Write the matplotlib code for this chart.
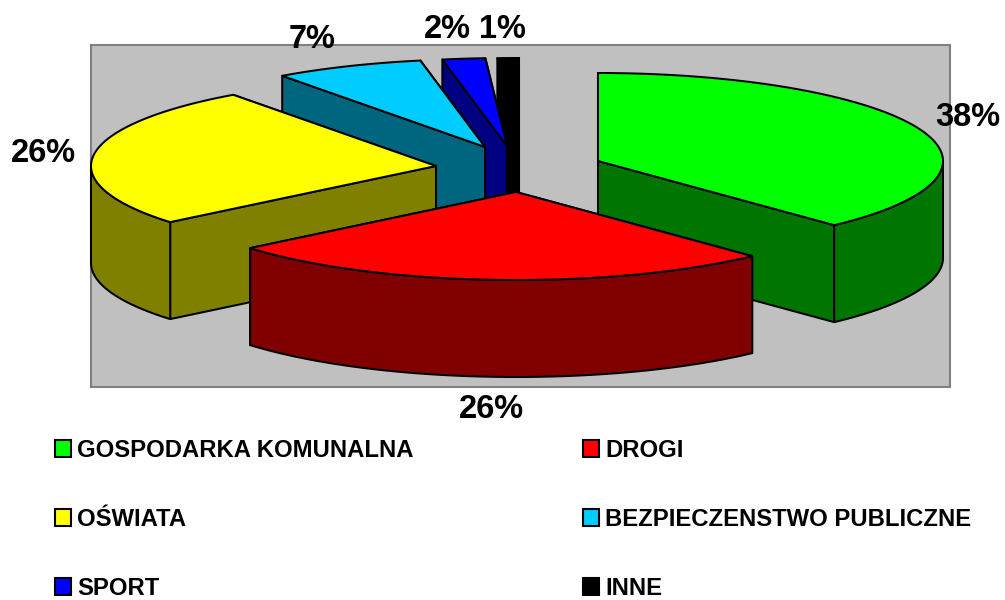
import numpy as np
import matplotlib
matplotlib.use("Agg")
import matplotlib.pyplot as plt
from matplotlib.patches import Polygon, Rectangle

plt.rcParams['font.family'] = ['Liberation Sans', 'DejaVu Sans']

categories = ['GOSPODARKA KOMUNALNA', 'DROGI', 'OŚWIATA',
              'BEZPIECZENSTWO PUBLICZNE', 'SPORT', 'INNE']
values = [38, 26, 26, 7, 2, 1]
pct_labels = ['38%', '26%', '26%', '7%', '2%', '1%']
top_colors = ['#00FF00', '#FF0000', '#FFFF00', '#00CCFF', '#0000FF', '#000000']
side_colors = ['#007500', '#800000', '#808000', '#006680', '#000080', '#000000']
# Exploded slice apexes (layout, pixels)
apex_x = [598, 516, 436, 485, 507, 519]
apex_y = [161, 192, 166, 147, 146, 146]
label_x = [968, 491, 43, 312, 447, 502]
label_y = [117, 410, 153, 40, 30, 30]
draw_order = [5, 4, 3, 2, 0, 1]

RX, RY, DEPTH = 345, 88, 97
LW = 1.45

fig = plt.figure(figsize=(10.05, 6), dpi=100)
ax = fig.add_axes([0, 0, 1, 1])
ax.set_xlim(0, 1005)
ax.set_ylim(600, 0)
ax.axis('off')

ax.add_patch(Rectangle((91, 45), 859, 342, facecolor='#C0C0C0',
                       edgecolor='#808080', lw=1.5))


def rim(cx, cy, t):
    r = np.radians(t)
    return np.column_stack([cx + RX * np.sin(r), cy - RY * np.cos(r)])


def poly(pts, color):
    ax.add_patch(Polygon(pts, closed=True, facecolor=color, edgecolor='black',
                         lw=LW, joinstyle='round'))


shares = np.array(values) / np.sum(values) * 360
starts = np.concatenate([[0], np.cumsum(shares)[:-1]])

for i in draw_order:
    cx, cy = apex_x[i], apex_y[i]
    t0, t1 = starts[i], starts[i] + shares[i]
    down = np.array([0, DEPTH])
    apex = np.array([cx, cy])
    # radial faces, upper-lying one first
    faces = sorted([t0, t1], key=lambda a: rim(cx, cy, np.array([a]))[0, 1])
    for a in faces:
        e = rim(cx, cy, np.array([a]))[0]
        poly([apex, e, e + down, apex + down], side_colors[i])
    # outer rim, front half only
    a0, a1 = max(t0, 90), min(t1, 270)
    if a1 > a0:
        arc = rim(cx, cy, np.linspace(a0, a1, 80))
        poly(np.vstack([arc, (arc + down)[::-1]]), side_colors[i])
    # top
    arc = rim(cx, cy, np.linspace(t0, t1, 120))
    poly(np.vstack([apex, arc]), top_colors[i])

for x, y, s in zip(label_x, label_y, pct_labels):
    ax.text(x, y, s, fontsize=23.5, fontweight='bold', ha='center', va='center',
            color='black')

legend_order = [0, 2, 4, 1, 3, 5]
handles = [Rectangle((0, 0), 1, 1, facecolor=top_colors[i], edgecolor='black',
                     lw=1.5) for i in legend_order]
ax.legend(handles, [categories[i] for i in legend_order], ncols=2,
          loc='upper left', bbox_to_anchor=(55, 439),
          bbox_transform=ax.transData, frameon=False,
          prop={'family': 'Liberation Sans', 'weight': 'bold', 'size': 17.2},
          handlelength=0.68, handleheight=0.68, handletextpad=0.26,
          labelspacing=1.92, columnspacing=7.07, borderpad=0, borderaxespad=0)

fig.savefig('out.png', dpi=100)
